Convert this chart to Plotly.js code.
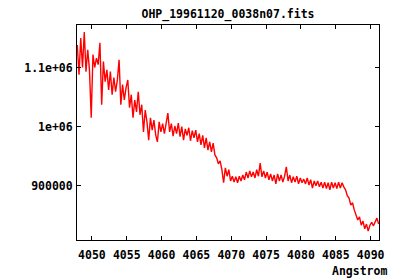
<!DOCTYPE html>
<html>
<head>
<meta charset="utf-8">
<script src="https://cdn.plot.ly/plotly-3.0.1.min.js"></script>
<style>html,body{margin:0;padding:0;background:#fff;}#chart{width:400px;height:280px;}</style>
</head>
<body>
<div id="chart"></div>
<script>
// Wavelength (Angstrom) of each sample
const wavelength = [
4047.90,4048.15,4048.40,4048.65,4048.90,4049.15,4049.40,4049.65,4049.90,4050.15,
4050.40,4050.65,4050.90,4051.15,4051.40,4051.65,4051.90,4052.15,4052.40,4052.65,
4052.90,4053.15,4053.40,4053.65,4053.90,4054.15,4054.40,4054.65,4054.90,4055.15,
4055.40,4055.65,4055.90,4056.15,4056.40,4056.65,4056.90,4057.15,4057.40,4057.65,
4057.90,4058.15,4058.40,4058.65,4058.90,4059.15,4059.40,4059.65,4059.90,4060.15,
4060.40,4060.65,4060.90,4061.15,4061.40,4061.65,4061.90,4062.15,4062.40,4062.65,
4062.90,4063.15,4063.40,4063.65,4063.90,4064.15,4064.40,4064.65,4064.90,4065.15,
4065.40,4065.65,4065.90,4066.15,4066.40,4066.65,4066.90,4067.15,4067.40,4067.65,
4067.90,4068.15,4068.40,4068.65,4068.90,4069.15,4069.40,4069.65,4069.90,4070.15,
4070.40,4070.65,4070.90,4071.15,4071.40,4071.65,4071.90,4072.15,4072.40,4072.65,
4072.90,4073.15,4073.40,4073.65,4073.90,4074.15,4074.40,4074.65,4074.90,4075.15,
4075.40,4075.65,4075.90,4076.15,4076.40,4076.65,4076.90,4077.15,4077.40,4077.65,
4077.90,4078.15,4078.40,4078.65,4078.90,4079.15,4079.40,4079.65,4079.90,4080.15,
4080.40,4080.65,4080.90,4081.15,4081.40,4081.65,4081.90,4082.15,4082.40,4082.65,
4082.90,4083.15,4083.40,4083.65,4083.90,4084.15,4084.40,4084.65,4084.90,4085.15,
4085.40,4085.65,4085.90,4086.15,4086.40,4086.65,4086.90,4087.15,4087.40,4087.65,
4087.90,4088.15,4088.40,4088.65,4088.90,4089.15,4089.40,4089.65,4089.90,4090.15,
4090.40,4090.65,4090.90,4091.15
];
// Flux of each sample
const flux = [
1138e3,1088e3,1150e3,1100e3,1160e3,1093e3,1130e3,1096e3,1015e3,1122e3,
1100e3,1116e3,1105e3,1142e3,1037e3,1110e3,1076e3,1096e3,1062e3,1093e3,
1054e3,1083e3,1059e3,1079e3,1113e3,1037e3,1071e3,1045e3,1066e3,1079e3,
1032e3,1054e3,1015e3,1045e3,1025e3,1059e3,1020e3,1037e3,991e3,1028e3,
1008e3,977e3,1015e3,994e3,1011e3,986e3,974e3,1008e3,991e3,1005e3,
988e3,1003e3,1023e3,991e3,1005e3,984e3,1001e3,988e3,1006e3,983e3,
1000e3,977e3,996e3,985e3,998e3,976e3,993e3,981e3,994e3,974e3,
988e3,969e3,985e3,964e3,981e3,960e3,974e3,957e3,972e3,952e3,
947e3,937e3,942e3,927e3,905e3,930e3,916e3,927e3,908e3,916e3,
906e3,915e3,905e3,916e3,908e3,918e3,910e3,923e3,913e3,925e3,
915e3,923e3,913e3,927e3,916e3,938e3,915e3,925e3,913e3,923e3,
910e3,920e3,908e3,918e3,903e3,920e3,908e3,918e3,906e3,916e3,
932e3,908e3,918e3,905e3,915e3,906e3,916e3,903e3,913e3,905e3,
911e3,903e3,913e3,901e3,910e3,896e3,908e3,900e3,908e3,898e3,
906e3,896e3,906e3,895e3,905e3,893e3,906e3,896e3,905e3,895e3,
906e3,896e3,905e3,898e3,893e3,883e3,879e3,867e3,871e3,859e3,
852e3,842e3,847e3,833e3,840e3,827e3,835e3,823e3,833e3,838e3,
832e3,840e3,845e3,835e3
];
const xTickVals = [4050,4055,4060,4065,4070,4075,4080,4085,4090];
const yTickVals = [900000,1000000,1100000];
const yTickText = ['900000','1e+06','1.1e+06'];

const font = {family:'DejaVu Sans Mono, monospace', size:11.5, color:'#000', weight:'bold'};

const trace = {
  x: wavelength, y: flux, type:'scatter', mode:'lines',
  line:{color:'#ff0000', width:1.4}, hoverinfo:'skip'
};
const axisCommon = {
  showline:true, linecolor:'#000', linewidth:1, mirror:'ticks',
  ticks:'inside', ticklen:4, tickwidth:1, tickcolor:'#000',
  showgrid:false, zeroline:false, tickfont:font
};
const layout = {
  width:400, height:280,
  margin:{l:77, r:21, t:25, b:40, pad:0},
  paper_bgcolor:'#fff', plot_bgcolor:'#fff',
  showlegend:false,
  title:{text:'OHP_19961120_0038n07.fits', font:font, x:0.5, xref:'paper', y:1-14/280, yref:'container', yanchor:'middle'},
  xaxis:Object.assign({}, axisCommon, {range:[4047.86,4091.2], tickvals:xTickVals, ticktext:xTickVals.map(String), ticklabelstandoff:4}),
  yaxis:Object.assign({}, axisCommon, {range:[808000,1172000], tickvals:yTickVals, ticktext:yTickText, ticklabelstandoff:1}),
  annotations:[{text:'Angstrom', xref:'paper', yref:'paper', x:(389-77)/302, y:-(271-240)/215, xanchor:'right', yanchor:'middle', showarrow:false, font:font}]
};
Plotly.newPlot('chart', [trace], layout, {staticPlot:true, displayModeBar:false});
</script>
</body>
</html>
